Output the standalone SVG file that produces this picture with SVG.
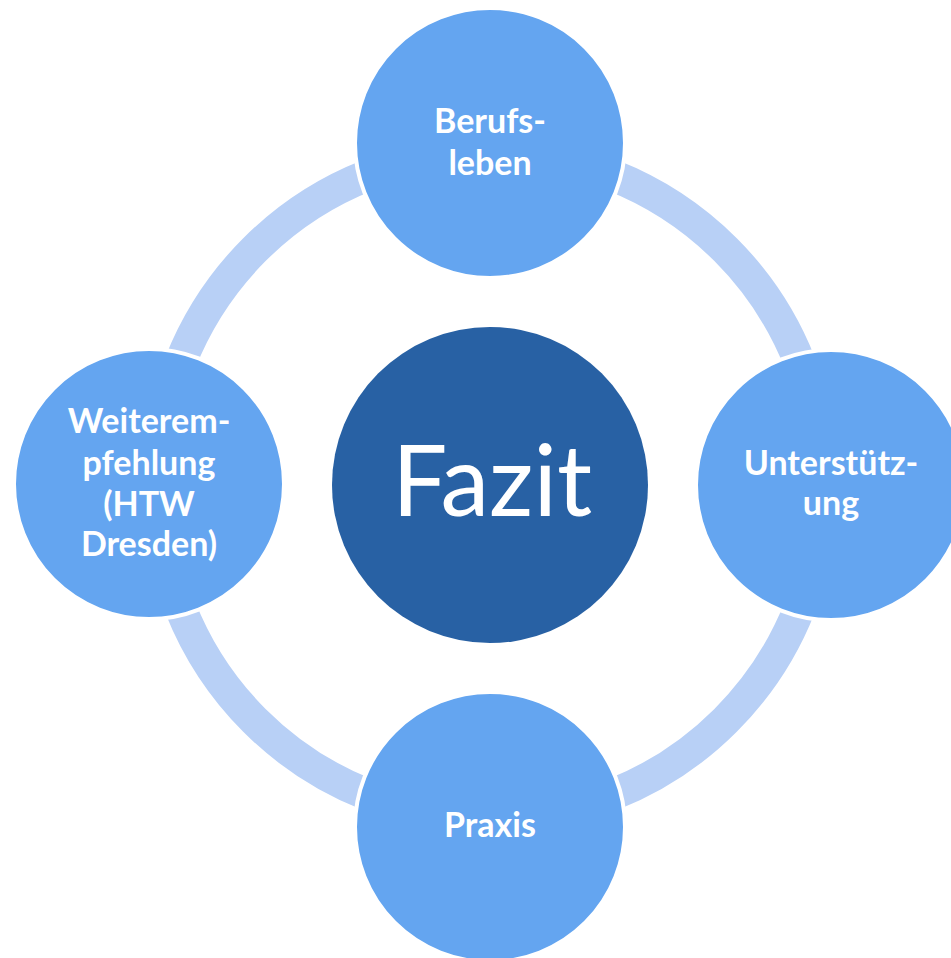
<svg xmlns="http://www.w3.org/2000/svg" width="951" height="958" viewBox="0 0 951 958">
<style>
.ring{fill:none;stroke:#B8D0F6;stroke-width:32}
.outer{fill:#64A5F0;stroke:#FFFFFF;stroke-width:4}
.center{fill:#2861A4}
.lbl{font-family:Lato,"Liberation Sans",sans-serif;font-weight:bold;font-size:34px;fill:#FFFFFF;text-anchor:middle}
.big{font-family:Lato,"Liberation Sans",sans-serif;font-size:98px;fill:#FFFFFF;text-anchor:middle}
</style>
<rect width="951" height="958" fill="#FFFFFF"/>
<g id="connectors">
<circle class="ring" cx="490" cy="485" r="333"/>
</g>
<g id="center-node">
<circle class="center" cx="490" cy="485" r="158"/>
<text class="big" x="492" y="516">Fazit</text>
</g>
<g id="node-top">
<circle class="outer" cx="490" cy="143" r="135"/>
<text class="lbl" x="490" y="133">Berufs-</text>
<text class="lbl" x="490" y="175">leben</text>
</g>
<g id="node-right">
<circle class="outer" cx="831" cy="485" r="135"/>
<text class="lbl" x="831" y="475">Unterstütz-</text>
<text class="lbl" x="831" y="515">ung</text>
</g>
<g id="node-bottom">
<circle class="outer" cx="490" cy="827" r="135"/>
<text class="lbl" x="490" y="837">Praxis</text>
</g>
<g id="node-left">
<circle class="outer" cx="149" cy="484" r="135"/>
<text class="lbl" x="149" y="433">Weiterem-</text>
<text class="lbl" x="149" y="475">pfehlung</text>
<text class="lbl" x="149" y="516">(HTW</text>
<text class="lbl" x="149" y="556">Dresden)</text>
</g>
</svg>
